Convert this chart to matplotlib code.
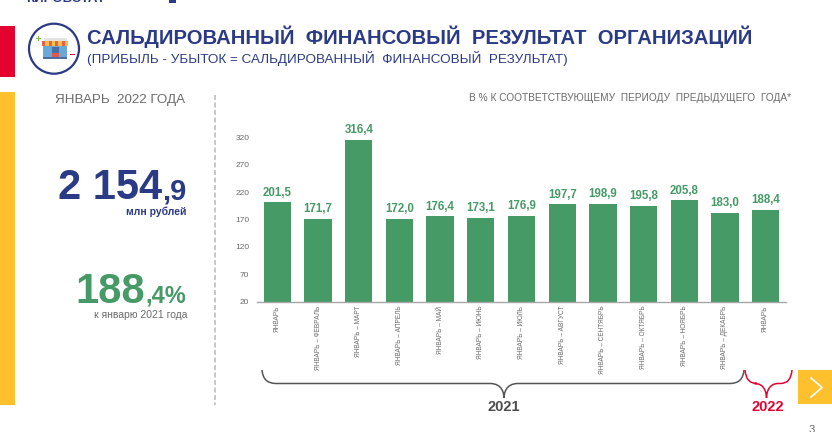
import matplotlib
matplotlib.use("Agg")
import matplotlib.pyplot as plt
from matplotlib.patches import Circle, Rectangle, PathPatch
from matplotlib.path import Path

plt.rcParams['font.family'] = ['Liberation Sans', 'DejaVu Sans']

months = ["ЯНВАРЬ", "ЯНВАРЬ – ФЕВРАЛЬ", "ЯНВАРЬ – МАРТ", "ЯНВАРЬ – АПРЕЛЬ", "ЯНВАРЬ – МАЙ",
          "ЯНВАРЬ – ИЮНЬ", "ЯНВАРЬ – ИЮЛЬ", "ЯНВАРЬ – АВГУСТ", "ЯНВАРЬ – СЕНТЯБРЬ",
          "ЯНВАРЬ – ОКТЯБРЬ", "ЯНВАРЬ – НОЯБРЬ", "ЯНВАРЬ – ДЕКАБРЬ", "ЯНВАРЬ"]
values = [201.5, 171.7, 316.4, 172.0, 176.4, 173.1, 176.9, 197.7, 198.9, 195.8, 205.8, 183.0, 188.4]
yticks = [20, 70, 120, 170, 220, 270, 320]

GREEN = "#459a66"
BLUE = "#2b3a85"
GREY = "#6b6b6b"
RED = "#e4032e"
YELLOW = "#fec02d"

W, H = 832, 432
fig = plt.figure(figsize=(W / 100, H / 100), dpi=100, facecolor="white")

# overlay in pixel coordinates for the slide decoration
bg = fig.add_axes([0, 0, 1, 1])
bg.set_xlim(0, W)
bg.set_ylim(H, 0)
bg.axis("off")

bg.add_patch(Rectangle((0, 26), 15, 50.5, color=RED, lw=0))
bg.add_patch(Rectangle((0, 92), 15, 313, color=YELLOW, lw=0))
bg.add_patch(Rectangle((798, 370), 34, 34, color=YELLOW, lw=0))
bg.add_patch(Rectangle((169, 0), 7, 3, color=BLUE, lw=0))
bg.plot([811, 822, 811], [378, 387.5, 397], color="white", lw=1.2)
bg.plot([215, 215], [95, 405], color="#bdbdbd", lw=1.2, ls=(0, (3, 1.5)))

# shop icon
bg.add_patch(Circle((54, 48.7), 25, fc="white", ec=BLUE, lw=1.6))
bg.add_patch(Rectangle((43.5, 38), 23, 3, color="#e3e3e3", lw=0))
bg.add_patch(Rectangle((43, 46), 24, 11, color="#6aa8d8", lw=0))
bg.add_patch(Rectangle((51.5, 47), 7, 10, color="#4b6fa5", lw=0))
bg.add_patch(Rectangle((51.5, 53), 7, 4, color="#e2574c", lw=0))
bg.add_patch(Rectangle((43, 57), 24, 1.5, color="#4b6fa5", lw=0))
for i in range(8):
    bg.add_patch(Rectangle((42 + i * 3.25, 41), 3.25, 5, color="#f5c04a" if i % 2 else "#e8604f", lw=0))
bg.add_patch(Rectangle((35.8, 37.6), 5, 1.5, color="#7ac143", lw=0))
bg.add_patch(Rectangle((37.6, 35.8), 1.5, 5, color="#7ac143", lw=0))
bg.add_patch(Rectangle((69.5, 53.6), 5, 1.5, color=RED, lw=0))

# headings
bg.text(87, 37, "САЛЬДИРОВАННЫЙ  ФИНАНСОВЫЙ  РЕЗУЛЬТАТ  ОРГАНИЗАЦИЙ", color=BLUE,
        fontsize=14.6, fontweight="bold", ha="left", va="center")
bg.text(87, 59, "(ПРИБЫЛЬ - УБЫТОК = САЛЬДИРОВАННЫЙ  ФИНАНСОВЫЙ  РЕЗУЛЬТАТ)", color=BLUE,
        fontsize=9.7, ha="left", va="center")
bg.text(26, -1, "КИРОВСТАТ", color=BLUE, fontsize=9.5, fontweight="bold", ha="left", va="center")
bg.text(812, 430, "3", color=GREY, fontsize=8, ha="center", va="center")

# left column
bg.text(120, 100, "ЯНВАРЬ  2022 ГОДА", color=GREY, fontsize=9.6, ha="center", va="center")
bg.text(186, 199, ",9", color=BLUE, fontsize=21, fontweight="bold", ha="right", va="baseline")
bg.text(162.5, 199, "2 154", color=BLUE, fontsize=30, fontweight="bold", ha="right", va="baseline")
bg.text(186, 212, "млн рублей", color=BLUE, fontsize=7.5, fontweight="bold", ha="right", va="center")
bg.text(186, 303, ",4%", color=GREEN, fontsize=17, fontweight="bold", ha="right", va="baseline")
bg.text(145.5, 303, "188", color=GREEN, fontsize=30, fontweight="bold", ha="right", va="baseline")
bg.text(187, 314.5, "к январю 2021 года", color=GREY, fontsize=7.5, ha="right", va="center")

bg.text(791, 98, "В % К СООТВЕТСТВУЮЩЕМУ  ПЕРИОДУ  ПРЕДЫДУЩЕГО  ГОДА*", color=GREY,
        fontsize=7.3, ha="right", va="center")

# braces under the months
def brace(x0, x1, xc, color):
    y0, y1, y2 = 370, 383.5, 398
    d = min(14, (x1 - x0) * 0.25)
    verts = [(x0, y0), (x0 + 1, y1), (x0 + d, y1), (xc - d, y1), (xc - 2, y1), (xc, y2 - 5), (xc, y2),
             (xc, y2 - 5), (xc + 2, y1), (xc + d, y1), (x1 - d, y1), (x1 - 1, y1), (x1, y0)]
    codes = [Path.MOVETO, Path.CURVE3, Path.CURVE3, Path.LINETO, Path.CURVE4, Path.CURVE4, Path.CURVE4,
             Path.CURVE4, Path.CURVE4, Path.CURVE4, Path.LINETO, Path.CURVE3, Path.CURVE3]
    bg.add_patch(PathPatch(Path(verts, codes), fc="none", ec=color, lw=1.1))

brace(262, 744, 504, "#555555")
brace(745, 792, 766.5, RED)
bg.text(503.5, 407, "2021", color="#4d4d4d", fontsize=10.5, fontweight="bold", ha="center", va="center")
bg.text(767.5, 407, "2022", color=RED, fontsize=10.5, fontweight="bold", ha="center", va="center")

# bar chart
left, right, top, bottom = 257, 786, 137.7, 301.5
ax = fig.add_axes([left / W, 1 - bottom / H, (right - left) / W, (bottom - top) / H])
ax.patch.set_alpha(0)
pos = list(range(len(values)))
ax.bar(pos, values, width=0.67, color=GREEN)
ax.set_ylim(20, 320)
ax.set_xlim(-0.5, len(values) - 0.5)
ax.set_yticks(yticks)
ax.set_xticks(pos)
ax.set_xticklabels(months, rotation=90, ha="center", va="top", fontsize=4.7, color=GREY)
ax.tick_params(axis="both", length=0)
ax.tick_params(axis="x", pad=3)
ax.tick_params(axis="y", pad=5.5, labelsize=6, labelcolor=GREY)
for s in ["top", "right", "left"]:
    ax.spines[s].set_visible(False)
ax.spines["bottom"].set_color("#a6a6a6")
ax.spines["bottom"].set_linewidth(1)
for p, v in zip(pos, values):
    ax.annotate(f"{v:.1f}".replace(".", ","), (p, v), xytext=(0, 2.5), textcoords="offset points",
                ha="center", va="bottom", color=GREEN, fontsize=8.3, fontweight="bold",
                annotation_clip=False)

fig.savefig("out.png", dpi=100)
